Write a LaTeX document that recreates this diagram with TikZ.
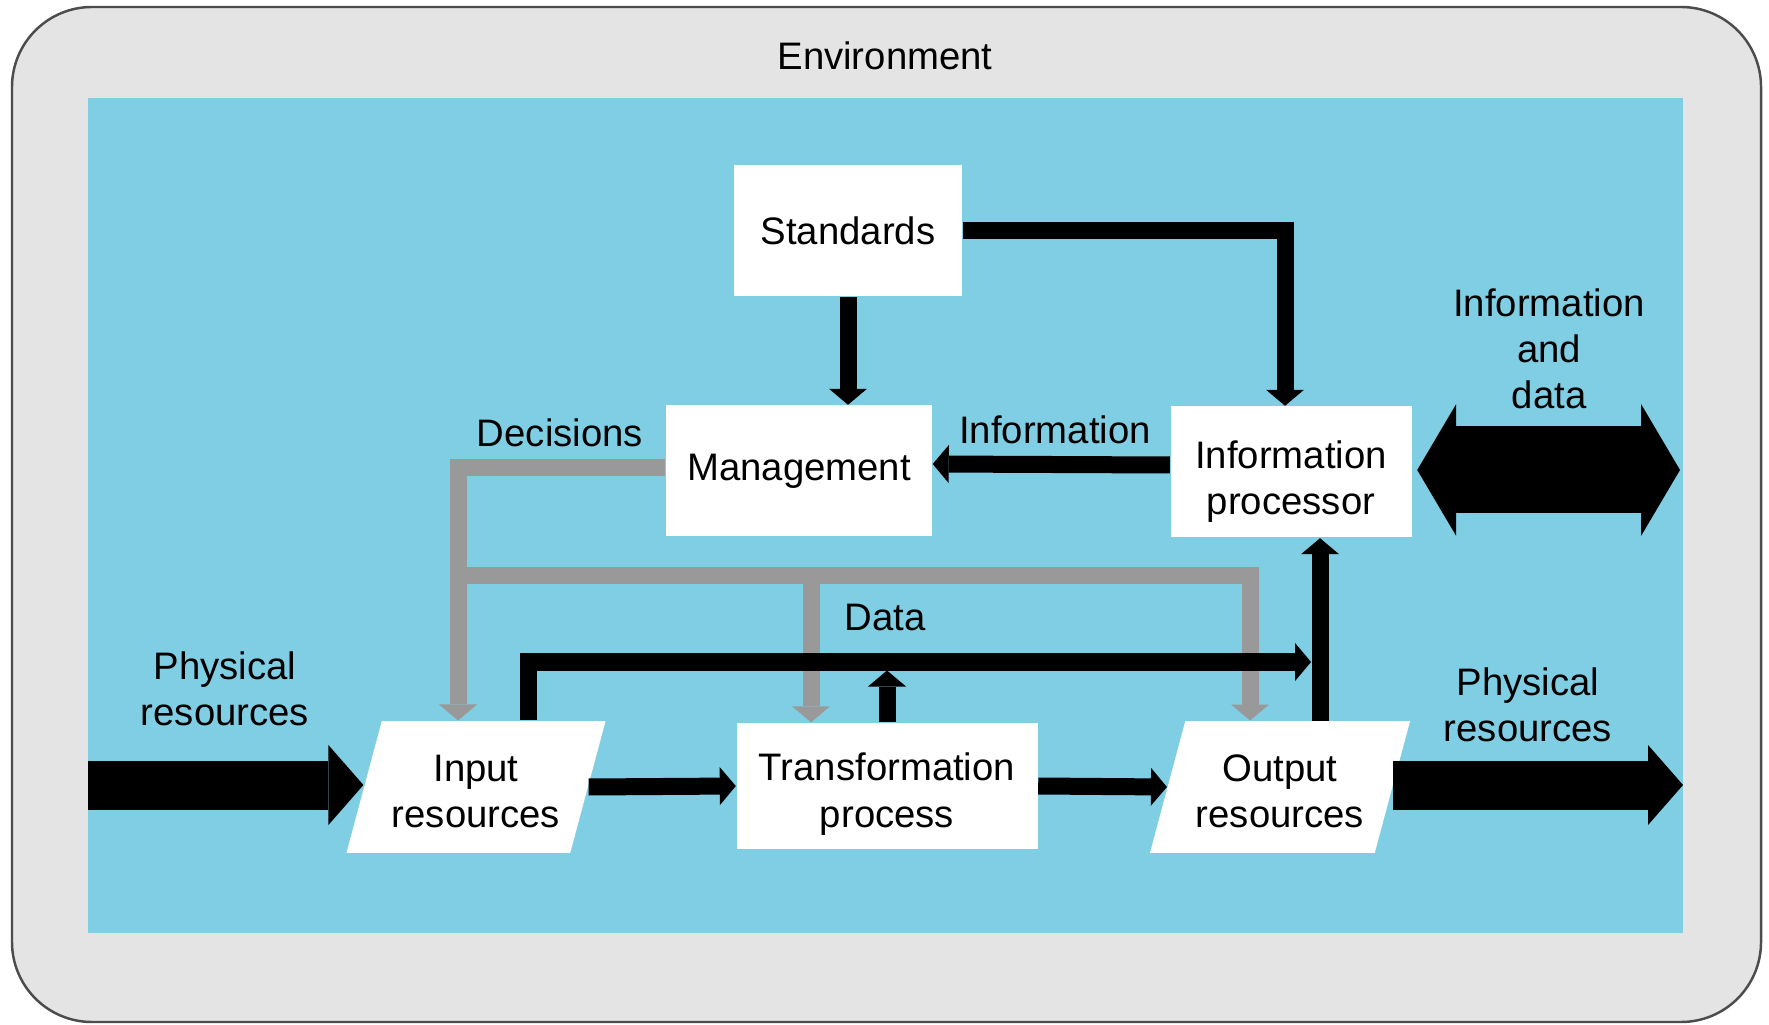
\documentclass[tikz,border=0pt]{standalone}
\usepackage{fontspec}
\setmainfont{Liberation Sans}
\usetikzlibrary{arrows.meta,shapes.geometric}
\definecolor{envgray}{RGB}{228,228,228}
\definecolor{sysblue}{RGB}{128,206,227}
\definecolor{decgray}{RGB}{153,153,153}
\begin{document}
\begin{tikzpicture}[x=.1mm,y=-.1mm,
  every node/.style={font=\fontsize{10.9}{13.1}\selectfont, align=center, inner sep=0pt},
  box/.style={fill=white, minimum height=13.1mm},
  para/.style={box, trapezium, trapezium left angle=75, trapezium right angle=105, trapezium stretches body,
    inner ysep=2.5mm, text height=23.1pt},
  blk/.style={line width=1.7mm, -{Triangle[length=1.6mm,width=3.8mm,line width=0pt]}},
  dec/.style={blk, decgray},
  big/.style={line width=4.9mm, -{Triangle[length=3.5mm,width=8mm,line width=0pt]}},
  dbl/.style={line width=8.7mm, {Triangle[length=3.9mm,width=13.2mm,line width=0pt]}-{Triangle[length=3.9mm,width=13.2mm,line width=0pt]}}]
\useasboundingbox (0,0) rectangle (1769,1025);
\draw [fill=envgray, draw=black!70, line width=.7pt, rounded corners=8mm] (12,7) rectangle (1761,1022);
\fill [sysblue] (88,98) rectangle (1683,933);
\node (env) at (885,56) {Environment};

\node [box, minimum width=22.8mm] (std) at (848,231) {Standards};
\node [box, minimum width=26.6mm] (mgmt) at (799,471) {Management};
\node [box, text height=26.2pt, minimum width=24.1mm] (info) at (1291,472) {Information\\processor};
\node [para, minimum width=25.9mm] (inp) at (476,787) {Input\\resources};
\node [box, text height=25.6pt, minimum width=30.1mm, minimum height=12.6mm] (trans) at (887,786) {Transformation\\process};
\node [para, minimum width=26mm] (outp) at (1280,787) {Output\\resources};

\node (declbl) at (560,433) {Decisions};
\node (infolbl) at (1055,430) {Information};
\node (datalbl) at (885,618) {Data};
\node (exchlbl) at (1549,349) {Information\\and\\data};
\node (physinlbl) at (225,689) {Physical\\resources};
\node (physoutlbl) at (1528,705) {Physical\\resources};

\draw [blk] (std.south) -- (std.south |- mgmt.north);
\draw [blk] (std.east) -| ([xshift=-.6mm]info.north);
\draw [blk] ([yshift=.7mm]info.west) -- ([yshift=.7mm]mgmt.east);

\coordinate (bus) at (458,576);
\draw [dec] ([yshift=.3mm]mgmt.west) -| (bus) -- (bus |- inp.north);
\draw [dec] (bus) -| ([xshift=-7.6mm]trans.north);
\draw [dec] (bus) -| ([xshift=-3mm]outp.north);

\coordinate (data) at (528,662);
\draw [blk] (inp.north -| data) -- (data) -- ([xshift=3.1mm]data -| outp.north);
\draw [blk, shorten >=.85mm] (trans.north) -- (trans.north |- data);
\draw [blk] ([xshift=4mm]outp.north) -- ([xshift=4mm]outp.north |- info.south);
\draw [blk] (inp.east) -- (trans.west);
\draw [blk] (trans.east) -- (outp.west);

\coordinate (physin) at (88,785);
\draw [big] (physin) -- (physin -| inp.west);
\coordinate (physout) at (1683,785);
\draw [big] (physout -| outp.east) -- (physout);
\coordinate (exch) at (1680,470);
\draw [dbl] ([xshift=.5mm]info.east |- exch) -- (exch);
\end{tikzpicture}
\end{document}
